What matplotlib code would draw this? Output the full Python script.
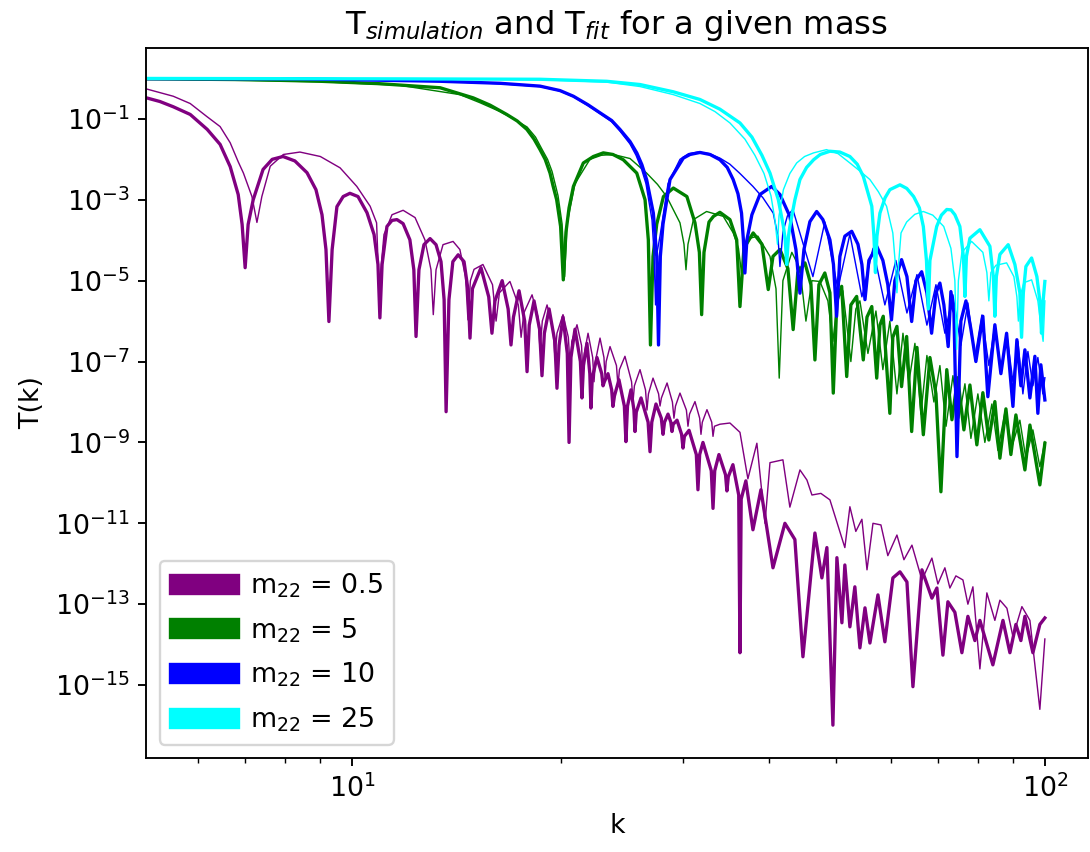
import numpy as np
import matplotlib.pyplot as plt
import matplotlib.patches as mpatches
from matplotlib.ticker import NullLocator, FixedLocator

plt.rcParams['font.size'] = 11.4

# values: k and log10 T(k), thick = simulation, thin = fit
k_sim_05 = [5.05, 5.28, 5.52, 5.84, 6.18, 6.45, 6.67, 6.85, 6.94, 7.01, 7.08, 7.20, 7.44, 7.67, 7.95,
            8.27, 8.61, 8.87, 9.05, 9.17, 9.26, 9.36, 9.51, 9.71, 9.93, 10.2, 10.51, 10.76, 10.9, 10.97,
            11.05, 11.23, 11.42, 11.61, 11.85, 12.12, 12.28, 12.37, 12.49, 12.70, 12.96, 13.22, 13.44,
            13.58, 13.67, 13.80, 13.98, 14.23, 14.51, 14.70, 14.80, 14.92, 15.35, 15.75, 15.92, 16.08,
            16.47, 16.80, 16.96, 17.10, 17.42, 17.75, 17.89, 18.02, 18.31, 18.65, 18.80, 18.95, 19.25,
            19.62, 19.76, 19.90, 20.16, 20.45, 20.57, 20.70, 20.98, 21.36, 21.47, 21.58, 21.83, 22.04,
            22.12, 22.22, 22.57, 22.93, 23.03, 23.13, 23.41, 23.70, 23.80, 23.92, 24.28, 24.72, 24.85,
            24.98, 25.27, 25.52, 25.61, 25.72, 26.13, 26.75, 26.92, 27.08, 27.46, 27.95, 28.11, 28.25,
            28.58, 28.85, 28.96, 29.08, 29.45, 29.90, 30.04, 30.18, 30.65, 31.40, 31.57, 31.75, 32.10,
            33.00, 33.19, 33.38, 33.85, 34.60, 34.76, 34.92, 35.46, 36.15, 36.30, 36.45, 37.02, 37.90,
            38.92, 40.51, 42.15, 43.57, 44.75, 46.57, 47.66, 48.46, 49.44, 50.10, 50.94, 51.44, 52.31,
            53.18, 54.08, 55.00, 55.91, 57.42, 58.76, 60.34, 61.78, 63.23, 64.50, 66.46, 68.70, 69.85,
            71.26, 72.45, 74.15, 75.90, 77.43, 79.25, 80.58, 84.13, 87.00, 89.03, 90.82, 92.34, 93.58,
            96.10, 98.35, 100.0]
logT_sim_05 = [-0.48, -0.57, -0.70, -0.89, -1.26, -1.63, -2.18, -2.87, -3.61, -4.68, -3.61, -3.00, -2.25,
               -2.00, -1.93, -2.04, -2.33, -2.75, -3.37, -4.23, -6.01, -4.23, -3.17, -2.92, -2.84, -2.92,
               -3.32, -3.86, -4.60, -5.92, -4.60, -3.66, -3.51, -3.49, -3.59, -3.99, -4.73, -6.38, -4.73,
               -4.11, -3.96, -4.11, -4.53, -5.47, -8.24, -5.47, -4.53, -4.36, -4.53, -5.22, -6.42, -5.20,
               -4.68, -5.40, -6.30, -5.50, -5.00, -5.70, -6.59, -5.90, -5.25, -6.00, -7.25, -6.10, -5.50,
               -6.20, -7.35, -6.30, -5.70, -6.50, -7.66, -6.60, -5.90, -6.80, -9.00, -6.90, -6.20, -7.00,
               -7.90, -7.10, -6.55, -7.30, -8.15, -7.40, -6.90, -7.30, -7.60, -7.50, -7.30, -7.70, -8.11,
               -7.85, -7.45, -8.10, -8.98, -8.10, -7.70, -8.20, -8.73, -8.25, -7.90, -8.50, -9.23, -8.50,
               -8.05, -8.40, -8.80, -8.50, -8.30, -8.50, -8.73, -8.55, -8.45, -8.80, -9.14, -8.85, -8.70,
               -9.30, -10.17, -9.30, -9.00, -9.70, -10.63, -9.70, -9.30, -9.80, -10.20, -9.85, -9.55,
               -10.30, -14.20, -10.40, -9.95, -11.16, -10.17, -12.10, -11.00, -11.40, -14.30, -11.24,
               -12.35, -11.60, -15.99, -11.85, -13.46, -12.03, -13.56, -12.57, -14.08, -13.09, -13.96,
               -12.77, -13.93, -12.35, -12.20, -12.45, -15.04, -12.15, -12.85, -12.60, -14.26, -12.94,
               -13.20, -14.20, -13.30, -13.90, -13.40, -14.50, -13.40, -14.20, -13.50, -13.90, -13.30,
               -14.20, -13.50, -13.34]

k_fit_05 = [5.05, 5.52, 5.84, 6.17, 6.45, 6.67, 6.85, 6.97, 7.17, 7.29, 7.41, 7.62, 7.96, 8.41, 9.00,
            9.61, 10.16, 10.62, 10.85, 10.94, 11.12, 11.42, 11.85, 12.33, 12.74, 13.00, 13.10, 13.22,
            13.53, 13.99, 14.31, 14.58, 14.70, 14.82, 15.00, 15.45, 15.95, 16.14, 16.32, 16.90, 17.38,
            17.54, 17.70, 18.19, 18.55, 18.68, 18.82, 19.12, 19.50, 19.63, 19.76, 20.16, 20.52, 20.64,
            20.76, 21.12, 21.44, 21.54, 21.64, 21.91, 22.25, 22.35, 22.45, 22.80, 23.10, 23.18, 23.27,
            23.57, 24.08, 24.20, 24.32, 24.77, 25.32, 25.44, 25.56, 26.04, 26.52, 26.65, 26.78, 27.19,
            27.70, 27.83, 27.96, 28.49, 29.00, 29.15, 29.30, 29.74, 30.38, 30.54, 30.70, 31.26, 31.75,
            31.89, 32.03, 32.53, 33.05, 33.19, 33.35, 33.96, 35.11, 36.30, 37.27, 38.40, 39.45, 40.11,
            41.87, 42.85, 44.31, 45.35, 46.11, 47.50, 48.95, 51.44, 52.31, 53.35, 54.44, 55.37, 56.48,
            57.99, 59.34, 61.16, 62.60, 64.29, 66.46, 68.70, 70.08, 71.73, 72.93, 74.40, 76.16, 77.43,
            78.73, 80.58, 82.47, 84.69, 86.12, 88.15, 89.93, 92.65, 95.15, 98.35, 100.0]
logT_fit_05 = [-0.26, -0.44, -0.62, -0.94, -1.19, -1.59, -2.06, -2.34, -2.92, -3.56, -2.92, -2.17, -1.88,
               -1.82, -1.93, -2.21, -2.67, -3.16, -3.57, -5.23, -3.86, -3.37, -3.26, -3.44, -3.99, -4.73,
               -5.84, -4.73, -4.11, -4.03, -4.23, -4.90, -5.97, -5.00, -4.72, -4.60, -5.10, -6.00, -5.30,
               -5.02, -5.60, -6.40, -5.80, -5.35, -5.90, -6.70, -6.00, -5.60, -6.20, -6.90, -6.30, -5.84,
               -6.40, -7.10, -6.50, -6.09, -6.60, -7.30, -6.80, -6.30, -6.90, -7.50, -7.00, -6.42, -6.90,
               -7.40, -7.00, -6.63, -7.10, -7.60, -7.20, -6.87, -7.50, -8.00, -7.60, -7.20, -7.70, -8.20,
               -7.80, -7.41, -7.80, -8.10, -7.90, -7.53, -8.00, -8.40, -8.10, -7.78, -8.20, -8.60, -8.30,
               -7.99, -8.40, -8.80, -8.50, -8.19, -8.50, -8.85, -8.60, -8.55, -8.52, -8.75, -9.90, -9.02,
               -11.00, -9.50, -9.43, -10.60, -9.68, -9.93, -10.30, -10.26, -10.42, -11.60, -10.59, -11.20,
               -10.90, -12.15, -11.00, -11.04, -11.80, -11.29, -11.90, -11.54, -12.40, -11.86, -12.50,
               -12.10, -12.60, -12.30, -12.40, -13.00, -12.57, -14.60, -12.72, -13.40, -12.90, -13.10,
               -13.80, -13.06, -13.40, -15.60, -13.86]

k_sim_5 = [5.05, 7.13, 9.00, 10.97, 13.40, 14.96, 15.82, 16.72, 17.31, 17.88, 18.31, 18.68, 19.00, 19.31,
           19.50, 19.74, 20.00, 20.18, 20.36, 20.57, 20.87, 21.57, 22.30, 23.05, 23.80, 24.63, 25.76,
           26.48, 26.77, 26.96, 27.19, 27.53, 28.15, 29.09, 30.43, 31.26, 31.72, 31.96, 32.21, 32.75,
           33.24, 33.96, 35.11, 35.91, 36.30, 36.78, 37.93, 39.05, 39.88, 40.51, 41.46, 42.57, 43.32,
           43.99, 45.05, 45.96, 46.57, 47.19, 48.13, 48.95, 49.50, 50.10, 50.90, 51.76, 52.48, 53.50,
           54.69, 55.37, 56.26, 57.19, 57.80, 58.44, 59.74, 60.33, 61.16, 62.11, 63.17, 64.23, 65.37,
           66.77, 68.25, 69.63, 70.79, 72.18, 73.43, 74.85, 76.41, 77.95, 79.77, 81.38, 83.02, 84.69,
           86.12, 87.86, 89.32, 90.82, 93.58, 95.15, 98.35, 100.0]
logT_sim_5 = [-0.01, -0.03, -0.07, -0.13, -0.23, -0.48, -0.66, -0.89, -1.05, -1.26, -1.50, -1.76, -2.00,
              -2.34, -2.65, -3.00, -3.66, -4.98, -3.80, -3.20, -2.67, -2.09, -1.93, -1.84, -1.88, -2.01,
              -2.34, -3.00, -3.99, -6.59, -4.40, -3.60, -2.92, -2.71, -2.92, -3.57, -4.30, -5.84, -4.30,
              -3.55, -3.41, -3.31, -3.49, -3.99, -5.64, -4.20, -3.82, -4.10, -5.22, -4.40, -4.23, -4.70,
              -6.21, -4.80, -4.56, -5.10, -6.96, -5.10, -4.81, -5.30, -7.78, -5.50, -5.14, -7.37, -5.60,
              -5.39, -6.96, -5.90, -5.64, -7.41, -6.10, -5.88, -8.28, -6.40, -6.13, -7.62, -6.38, -8.73,
              -6.65, -8.81, -6.90, -7.80, -10.22, -7.20, -8.44, -7.40, -8.69, -7.58, -9.06, -7.77, -8.94,
              -7.99, -9.39, -8.17, -9.30, -8.32, -9.68, -8.57, -10.05, -9.02]

k_fit_5 = [5.05, 9.00, 11.73, 14.31, 15.30, 16.36, 17.10, 17.89, 18.40, 18.80, 19.15, 19.44, 19.83,
           20.10, 20.27, 20.43, 20.98, 22.05, 22.90, 23.83, 25.19, 26.62, 27.60, 28.45, 29.74, 30.14,
           30.34, 30.54, 31.10, 32.49, 34.34, 35.50, 36.12, 36.49, 36.90, 37.52, 38.53, 40.11, 40.92,
           41.36, 41.87, 43.13, 44.31, 45.20, 46.11, 47.35, 48.62, 49.44, 50.26, 51.10, 52.48, 53.35,
           54.08, 55.54, 57.04, 58.37, 59.74, 61.16, 62.40, 63.65, 64.93, 66.24, 67.57, 69.16, 70.55,
           72.01, 73.67, 75.13, 76.67, 78.21, 80.04, 81.92, 83.85, 85.55, 87.57, 89.62, 92.03, 93.89,
           96.10, 98.35, 100.0]
logT_fit_5 = [-0.01, -0.08, -0.17, -0.40, -0.60, -0.82, -1.00, -1.20, -1.45, -1.75, -2.00, -2.30, -2.90,
              -3.60, -4.90, -3.60, -2.60, -2.00, -1.90, -1.88, -1.98, -2.34, -2.62, -2.92, -3.57, -4.10,
              -4.73, -4.10, -3.49, -3.29, -3.41, -3.82, -4.20, -4.81, -4.20, -3.95, -3.90, -4.40, -5.20,
              -7.41, -5.00, -4.30, -4.70, -6.00, -5.00, -5.02, -5.50, -6.50, -5.40, -5.25, -7.00, -5.70,
              -5.50, -6.80, -5.75, -7.20, -6.00, -7.80, -6.30, -7.50, -6.55, -8.30, -6.85, -8.00, -7.10,
              -8.60, -7.35, -8.40, -7.55, -8.90, -7.80, -9.00, -8.05, -9.20, -8.25, -9.10, -8.45, -9.40,
              -8.69, -9.60, -8.98]

k_sim_10 = [5.05, 8.41, 13.40, 16.36, 18.68, 19.96, 20.87, 21.90, 22.80, 23.70, 24.36, 25.19, 25.76,
            26.20, 26.62, 27.22, 27.53, 27.69, 27.86, 28.11, 28.77, 30.07, 30.75, 31.78, 32.86, 33.96,
            34.80, 35.49, 36.06, 36.49, 36.72, 36.90, 37.14, 37.77, 38.79, 40.34, 41.46, 42.85, 43.72,
            44.31, 44.90, 45.80, 46.84, 47.82, 48.95, 49.53, 50.05, 50.60, 51.44, 52.63, 53.73, 54.44,
            55.00, 55.72, 57.19, 58.37, 59.34, 60.06, 60.74, 62.11, 63.23, 64.23, 65.15, 66.40, 67.57,
            68.63, 69.63, 70.55, 71.49, 72.52, 73.18, 73.92, 74.67, 75.64, 76.93, 78.21, 79.51, 81.38,
            82.74, 84.69, 86.41, 88.06, 89.93, 91.12, 92.34, 93.58, 95.15, 96.74, 97.70, 98.68, 100.0]
logT_sim_10 = [-0.005, -0.01, -0.07, -0.12, -0.19, -0.30, -0.44, -0.65, -0.85, -1.04, -1.26, -1.56, -1.84,
               -2.13, -2.50, -3.33, -4.40, -6.59, -4.40, -3.60, -2.50, -1.97, -1.88, -1.83, -1.88, -2.01,
               -2.20, -2.50, -2.85, -3.33, -4.00, -4.81, -4.00, -3.37, -2.87, -2.67, -2.87, -3.41, -4.23,
               -5.31, -4.23, -3.54, -3.29, -3.49, -3.99, -4.60, -5.88, -4.40, -3.90, -3.78, -4.10, -4.60,
               -5.47, -4.50, -4.15, -4.50, -5.10, -5.97, -5.00, -4.48, -4.90, -6.01, -5.00, -4.78, -5.30,
               -6.30, -5.30, -5.06, -5.60, -6.63, -5.27, -5.80, -9.35, -6.00, -5.50, -6.20, -7.00, -5.88,
               -7.87, -6.09, -7.30, -6.30, -8.11, -6.46, -7.60, -6.71, -7.90, -6.87, -8.28, -7.08, -7.95]

k_fit_10 = [5.05, 8.41, 13.40, 16.36, 18.68, 19.96, 20.85, 21.90, 22.80, 23.70, 24.36, 25.19, 25.70,
            26.15, 26.56, 27.10, 27.28, 27.42, 27.56, 27.83, 28.58, 29.74, 30.60, 31.57, 32.80, 33.96,
            35.10, 36.30, 37.90, 39.18, 40.55, 41.18, 41.46, 41.87, 42.50, 43.28, 46.26, 48.13, 50.26,
            52.31, 54.44, 56.48, 58.76, 60.95, 63.23, 65.37, 67.57, 69.63, 71.73, 73.67, 75.64, 77.43,
            79.25, 81.11, 83.02, 84.69, 86.41, 88.15, 89.93, 91.42, 92.96, 94.52, 96.10, 97.70, 99.34, 100.0]
logT_fit_10 = [-0.005, -0.01, -0.07, -0.13, -0.20, -0.31, -0.45, -0.67, -0.87, -1.07, -1.30, -1.62, -1.90,
               -2.22, -2.60, -3.50, -4.30, -5.60, -4.30, -3.90, -2.60, -2.00, -1.86, -1.82, -1.86, -1.97,
               -2.12, -2.35, -2.67, -2.95, -3.33, -3.90, -4.65, -3.80, -3.40, -3.24, -4.90, -3.55, -5.20,
               -3.85, -5.40, -4.20, -5.60, -4.50, -5.80, -4.85, -6.10, -5.10, -6.30, -5.35, -6.60, -5.55,
               -6.90, -5.85, -7.10, -6.10, -7.20, -6.35, -7.50, -6.50, -7.80, -6.75, -7.60, -6.90, -7.80, -7.40]

k_sim_25 = [5.05, 11.73, 18.68, 23.31, 26.04, 29.09, 31.78, 33.96, 36.30, 37.77, 39.05, 40.11, 41.24,
            41.94, 42.20, 42.40, 42.65, 42.85, 43.57, 44.31, 45.30, 46.37, 47.40, 48.95, 50.60, 52.31,
            53.60, 54.69, 56.26, 56.66, 56.95, 57.23, 57.80, 58.80, 59.74, 61.78, 63.20, 64.65, 65.90,
            66.77, 67.47, 67.88, 68.25, 69.80, 70.90, 72.18, 73.20, 74.15, 75.39, 76.28, 76.67, 77.05,
            77.95, 80.58, 83.30, 84.26, 84.69, 85.11, 86.12, 88.53, 90.52, 92.03, 92.55, 93.10, 93.89,
            95.69, 97.38, 98.35, 98.89, 99.42, 100.0]
logT_sim_25 = [0.0, -0.01, -0.02, -0.07, -0.15, -0.33, -0.52, -0.76, -1.10, -1.45, -1.90, -2.34, -3.00,
               -3.66, -4.00, -4.60, -3.90, -3.66, -3.00, -2.50, -2.20, -2.01, -1.88, -1.80, -1.82, -1.93,
               -2.12, -2.42, -3.16, -3.90, -4.80, -3.90, -3.33, -2.95, -2.75, -2.63, -2.72, -2.92, -3.20,
               -3.66, -4.50, -5.70, -4.50, -3.66, -3.38, -3.24, -3.25, -3.37, -3.66, -4.40, -5.39, -4.40,
               -3.95, -3.74, -4.15, -4.90, -5.88, -4.90, -4.35, -4.11, -4.60, -5.30, -6.40, -5.30, -4.65,
               -4.44, -4.90, -5.50, -6.30, -5.50, -5.02]

k_fit_25 = [5.05, 11.73, 18.68, 23.31, 26.04, 29.09, 31.78, 33.41, 35.11, 36.90, 38.15, 39.32, 40.24,
            40.78, 41.12, 41.33, 41.94, 42.85, 43.83, 45.00, 46.37, 48.40, 50.30, 52.31, 54.00, 55.91,
            57.50, 59.09, 60.33, 60.85, 61.16, 61.49, 62.00, 63.17, 64.90, 66.77, 68.90, 71.45, 73.18,
            74.15, 74.58, 75.02, 75.90, 78.39, 81.38, 82.47, 83.02, 83.57, 84.98, 88.06, 90.22, 91.12,
            91.57, 92.03, 93.27, 95.69, 97.70, 98.68, 99.42, 100.0]
logT_fit_25 = [0.0, -0.01, -0.03, -0.09, -0.20, -0.40, -0.62, -0.82, -1.10, -1.50, -1.90, -2.35, -2.90,
               -3.50, -4.10, -3.40, -2.75, -2.35, -2.09, -1.93, -1.84, -1.76, -1.86, -2.09, -2.28, -2.50,
               -2.80, -3.16, -3.82, -4.60, -5.30, -4.60, -3.82, -3.55, -3.36, -3.29, -3.38, -3.66, -4.20,
               -5.00, -6.70, -5.00, -4.30, -4.03, -4.30, -4.80, -5.50, -4.80, -4.62, -4.56, -4.90, -5.40,
               -6.00, -5.40, -5.05, -4.98, -5.50, -6.10, -6.50, -5.50]

masses = ['0.5', '5', '10', '25']
colors = ['purple', 'green', 'blue', 'cyan']
k_sim = [k_sim_05, k_sim_5, k_sim_10, k_sim_25]
T_sim = [logT_sim_05, logT_sim_5, logT_sim_10, logT_sim_25]
k_fit = [k_fit_05, k_fit_5, k_fit_10, k_fit_25]
T_fit = [logT_fit_05, logT_fit_5, logT_fit_10, logT_fit_25]

fig = plt.figure(figsize=(1090 / 170, 852 / 170), dpi=170)
ax = fig.add_axes([0.134, 0.110, 0.864, 0.834])

handles = []
for i in range(len(masses)):
    ax.plot(k_sim[i], 10.0 ** np.array(T_sim[i]), color=colors[i], lw=1.4)
    ax.plot(k_fit[i], 10.0 ** np.array(T_fit[i]), color=colors[i], lw=0.6)
    handles.append(mpatches.Patch(color=colors[i], label='m$_{22}$ = ' + masses[i]))

ax.set_xscale('log')
ax.set_yscale('log')
ax.set_xlim(10 ** 0.7027, 10 ** 2.062)
ax.set_ylim(10 ** -16.81, 10 ** 0.76)
ax.yaxis.set_major_locator(FixedLocator([10.0 ** e for e in range(-15, 0, 2)]))
ax.yaxis.set_minor_locator(NullLocator())

ax.set_title('T$_{simulation}$ and T$_{fit}$ for a given mass')
ax.set_xlabel('k')
ax.set_ylabel('T(k)')
ax.legend(handles=handles, loc='lower left', handlelength=2.55, handletextpad=0.4, labelspacing=0.6)

fig.savefig('out.png', dpi=170)
